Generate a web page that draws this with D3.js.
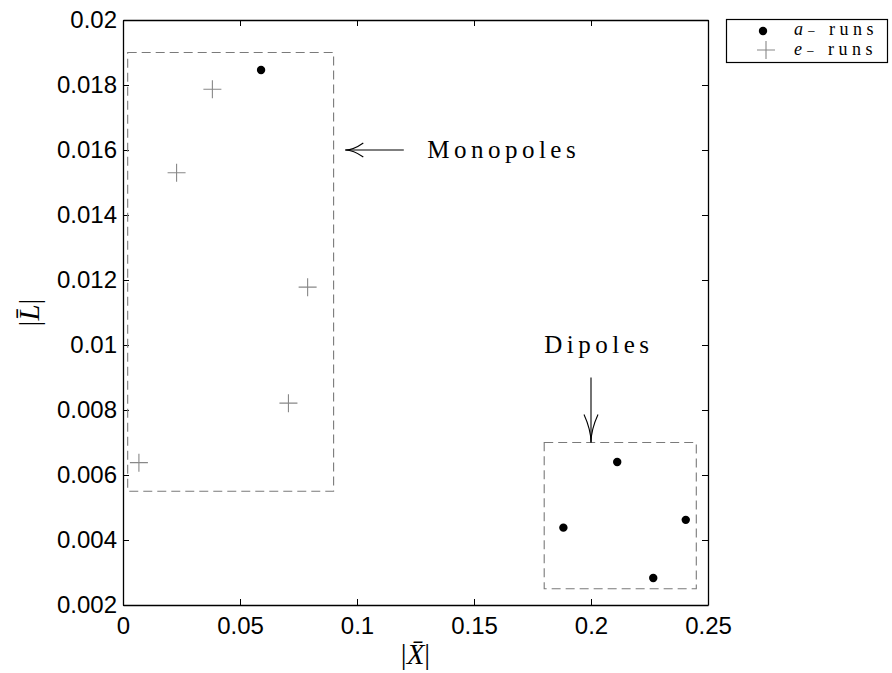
<!DOCTYPE html>
<html>
<head>
<meta charset="utf-8">
<script src="https://cdn.jsdelivr.net/npm/d3@7"></script>
<style>
  html, body { margin: 0; padding: 0; background: #fff; }
  svg { display: block; }
</style>
</head>
<body>
<div id="chart"></div>
<script>
// |X̄| and |L̄| values of the two run families
const aRunsX = [0.059, 0.2112, 0.1882, 0.2405, 0.2266];
const aRunsY = [0.01846, 0.0064, 0.00438, 0.00462, 0.00283];
const eRunsX = [0.0382, 0.0229, 0.0789, 0.0707, 0.0068];
const eRunsY = [0.01787, 0.0153, 0.01178, 0.00821, 0.00638];

const xTicks = [0, 0.05, 0.1, 0.15, 0.2, 0.25];
const xTickLabels = ["0", "0.05", "0.1", "0.15", "0.2", "0.25"];
const yTicks = [0.002, 0.004, 0.006, 0.008, 0.01, 0.012, 0.014, 0.016, 0.018, 0.02];
const yTickLabels = ["0.002", "0.004", "0.006", "0.008", "0.01", "0.012", "0.014", "0.016", "0.018", "0.02"];

// grouping boxes [x0, x1, y0, y1] and their annotations
const regionNames = ["Monopoles", "Dipoles"];
const regionBoxes = [[0.002, 0.09, 0.0055, 0.019], [0.18, 0.245, 0.0025, 0.007]];
const arrowFrom = [[0.12, 0.016], [0.2, 0.009]];
const arrowTo = [[0.095, 0.016], [0.2, 0.007]];
const labelAt = [[0.13, 0.016], [0.18, 0.00975]];

const legendNames = ["a", "e"];

const W = 892, H = 673;
const svg = d3.select("#chart").append("svg").attr("width", W).attr("height", H);

const x = d3.scaleLinear().domain([0, 0.25]).range([123, 708]);
const y = d3.scaleLinear().domain([0.002, 0.02]).range([605, 20]);

const tickFont = "'Liberation Sans', Arial, Helvetica, sans-serif";
const serif = "'Liberation Serif', 'Times New Roman', serif";

// axes with inward ticks on all four sides
const gx = svg.append("g").attr("transform", `translate(0,${y.range()[0]})`)
  .call(d3.axisBottom(x).tickValues(xTicks).tickFormat((d, i) => xTickLabels[i])
    .tickSizeInner(-6).tickSizeOuter(0).tickPadding(12));
const gxt = svg.append("g").attr("transform", `translate(0,${y.range()[1]})`)
  .call(d3.axisTop(x).tickValues(xTicks).tickFormat("").tickSizeInner(-6).tickSizeOuter(0));
const gy = svg.append("g").attr("transform", `translate(${x.range()[0]},0)`)
  .call(d3.axisLeft(y).tickValues(yTicks).tickFormat((d, i) => yTickLabels[i])
    .tickSizeInner(-6).tickSizeOuter(0).tickPadding(6));
const gyr = svg.append("g").attr("transform", `translate(${x.range()[1]},0)`)
  .call(d3.axisRight(y).tickValues(yTicks).tickFormat("").tickSizeInner(-6).tickSizeOuter(0));

[gx, gxt, gy, gyr].forEach(g => {
  g.select(".domain").attr("stroke", "#000").attr("stroke-width", 1.3);
  g.selectAll(".tick line").attr("stroke", "#000").attr("stroke-width", 1);
  g.selectAll(".tick text").attr("fill", "#000")
    .style("font-family", tickFont).style("font-size", "24px");
});

// dashed grouping boxes
svg.append("g").selectAll("rect").data(regionBoxes).join("rect")
  .attr("x", d => x(d[0])).attr("y", d => y(d[3]))
  .attr("width", d => x(d[1]) - x(d[0])).attr("height", d => y(d[2]) - y(d[3]))
  .attr("fill", "none").attr("stroke", "#7a7a7a").attr("stroke-width", 1.1)
  .attr("stroke-dasharray", "9,5");

// open-headed arrows
function arrow(g, x1, y1, x2, y2, len, half) {
  const ang = Math.atan2(y2 - y1, x2 - x1);
  const c = Math.cos(ang), s = Math.sin(ang);
  const bx = x2 - len * c, by = y2 - len * s;
  g.append("line").attr("x1", x1).attr("y1", y1).attr("x2", x2).attr("y2", y2)
    .attr("stroke", "#000").attr("stroke-width", 1.1);
  g.append("path")
    .attr("d", `M${bx - half * s},${by + half * c} Q${x2 - len * 0.45 * c},${y2 - len * 0.45 * s} ${x2},${y2} Q${x2 - len * 0.45 * c},${y2 - len * 0.45 * s} ${bx + half * s},${by - half * c}`)
    .attr("fill", "none").attr("stroke", "#000").attr("stroke-width", 1.1);
}
const ga = svg.append("g");
arrowFrom.forEach((f, i) => {
  arrow(ga, x(f[0]), y(f[1]), x(arrowTo[i][0]), y(arrowTo[i][1]), i === 0 ? 18 : 28, 7);
});

svg.append("g").selectAll("text").data(regionNames).join("text")
  .attr("x", (d, i) => x(labelAt[i][0])).attr("y", (d, i) => y(labelAt[i][1]))
  .attr("dy", (d, i) => i === 0 ? "0.33em" : 0)
  .style("font-family", serif).style("font-size", "25px").style("letter-spacing", "4.5px")
  .attr("fill", "#000").text(d => d);

// e runs: grey plus signs
svg.append("g").selectAll("path").data(eRunsX).join("path")
  .attr("d", "M-9,0H9M0,-9V9")
  .attr("transform", (d, i) => `translate(${x(d)},${y(eRunsY[i])})`)
  .attr("stroke", "#888").attr("stroke-width", 1.1).attr("fill", "none");

// a runs: black dots
svg.append("g").selectAll("circle").data(aRunsX).join("circle")
  .attr("cx", d => x(d)).attr("cy", (d, i) => y(aRunsY[i])).attr("r", 4.2)
  .attr("fill", "#000");

// axis labels
const xl = svg.append("text").attr("x", (x.range()[0] + x.range()[1]) / 2).attr("y", 664)
  .attr("text-anchor", "middle").style("font-family", serif).style("font-size", "29px");
xl.append("tspan").text("|");
xl.append("tspan").style("font-style", "italic").text("X\u0304");
xl.append("tspan").text("|");

const yl = svg.append("text")
  .attr("transform", `translate(39,${(y.range()[0] + y.range()[1]) / 2}) rotate(-90)`)
  .attr("text-anchor", "middle").style("font-family", serif).style("font-size", "29px");
yl.append("tspan").text("|");
yl.append("tspan").style("font-style", "italic").text("L\u0304");
yl.append("tspan").text("|");

// legend
const lg = svg.append("g");
lg.append("rect").attr("x", 726.5).attr("y", 19.5).attr("width", 161).attr("height", 43)
  .attr("fill", "#fff").attr("stroke", "#000").attr("stroke-width", 1.2);
lg.append("circle").attr("cx", 763).attr("cy", 31).attr("r", 4.2).attr("fill", "#000");
lg.append("path").attr("d", "M-9,0H9M0,-9V9").attr("transform", "translate(766,50)")
  .attr("stroke", "#888").attr("stroke-width", 1.1);
legendNames.forEach((n, i) => {
  const t = lg.append("text").attr("x", 794).attr("y", i === 0 ? 35 : 55)
    .style("font-family", serif).style("font-size", "18px").style("letter-spacing", "4.5px");
  t.append("tspan").style("font-style", "italic").text(n);
  t.append("tspan").attr("font-size", "14px").attr("dy", 1).text("\u2212");
  t.append("tspan").attr("dy", -1).text(" runs");
});
</script>
</body>
</html>
